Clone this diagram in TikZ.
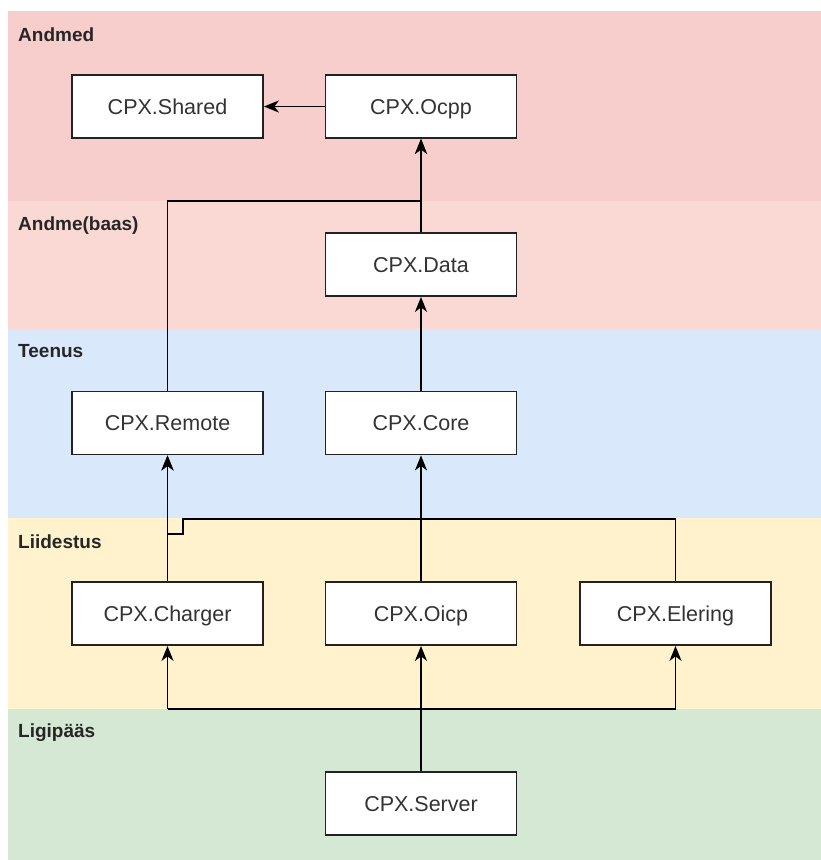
\documentclass[tikz,border=0pt]{standalone}
\usepackage{fontspec}
\setmainfont{Liberation Sans}
\usetikzlibrary{arrows.meta}
\definecolor{bandA}{HTML}{F8CECC}
\definecolor{bandB}{HTML}{FAD9D5}
\definecolor{bandC}{HTML}{DAE8FC}
\definecolor{bandD}{HTML}{FFF2CC}
\definecolor{bandE}{HTML}{D5E8D4}
\definecolor{ink}{HTML}{222222}
\definecolor{boxtext}{HTML}{333333}
\begin{document}
\begin{tikzpicture}[x=1pt,y=-1pt,
  modbox/.style={draw=ink, line width=1.8pt, fill=white, minimum width=191pt,
    minimum height=63pt, inner sep=0pt, text=boxtext,
    text height=15.5pt, text depth=0pt,
    font=\fontsize{21.5}{24}\selectfont},
  bandlabel/.style={anchor=base west, inner sep=0pt, text=black!85,
    font=\fontsize{19}{22}\selectfont\bfseries},
  link/.style={draw=black, line width=1.8pt, -{Stealth[length=15pt,width=12pt,inset=4.5pt]}},
  plain/.style={draw=black, line width=1.8pt}]
\useasboundingbox (0,0) rectangle (821,860);
\fill[white] (0,0) rectangle (821,860);

% layer bands
\fill[bandA] (8,11) rectangle (821,201);
\fill[bandB] (8,201) rectangle (821,329);
\fill[bandC] (8,329) rectangle (821,518);
\fill[bandD] (8,518) rectangle (821,709);
\fill[bandE] (8,709) rectangle (821,860);

\node[bandlabel] (lA) at (18,41) {Andmed};
\node[bandlabel] (lB) at (18,230) {Andme(baas)};
\node[bandlabel] (lC) at (18,357) {Teenus};
\node[bandlabel] (lD) at (18,548) {Liidestus};
\node[bandlabel] (lE) at (18,737) {Ligipääs};

% modules
\node[modbox] (shared)  at (167.5,106.5) {CPX.Shared};
\node[modbox] (ocpp)    at (421,106.5)   {CPX.Ocpp};
\node[modbox] (data)    at (421,264.5)   {CPX.Data};
\node[modbox] (remote)  at (167.5,423)   {CPX.Remote};
\node[modbox] (core)    at (421,423)     {CPX.Core};
\node[modbox] (charger) at (167.5,613.5) {CPX.Charger};
\node[modbox] (oicp)    at (421,613.5)   {CPX.Oicp};
\node[modbox] (elering) at (675.5,613.5) {CPX.Elering};
\node[modbox] (server)  at (421,803.5)   {CPX.Server};

% route waypoints
\coordinate (rTurn) at (167.5,201);
\coordinate (eA) at (675.5,519);
\coordinate (eB) at (183,519);
\coordinate (eC) at (183,534);
\coordinate (eD) at (167.5,534);
\coordinate (sL) at (167.5,709);
\coordinate (sR) at (675.5,709);

% dependencies
\draw[link] (ocpp.west) -- (shared.east);
\draw[link] (data.north) -- (ocpp.south);
\draw[link] (remote.north) -- (rTurn) -| (ocpp.south);
\draw[link] (core.north) -- (data.south);
\draw[link] (charger.north) -- (remote.south);
\draw[link] (oicp.north) -- (core.south);
\draw[link] (elering.north) -- (eA) -- (eB) -- (eC) -- (eD) -- (remote.south);
\draw[link] (server.north) -- (oicp.south);
\draw[plain] (sL) -- (sR);
\draw[link] (sL) -- (charger.south);
\draw[link] (sR) -- (elering.south);
\end{tikzpicture}
\end{document}
